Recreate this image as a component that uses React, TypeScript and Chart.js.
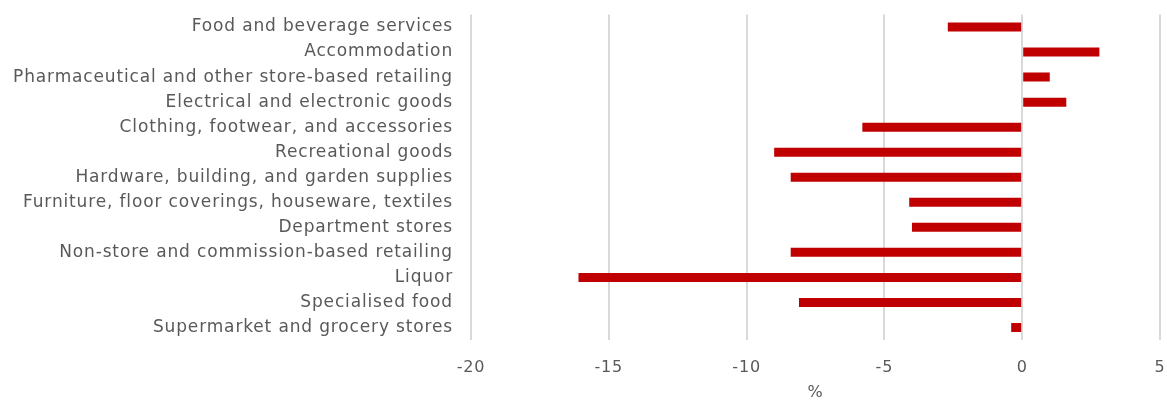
import React, { useEffect, useRef } from "react";
import { Chart, registerables } from "chart.js";

Chart.register(...registerables);

const categories = [
  "Food and beverage services",
  "Accommodation",
  "Pharmaceutical and other store-based retailing",
  "Electrical and electronic goods",
  "Clothing, footwear, and accessories",
  "Recreational goods",
  "Hardware, building, and garden supplies",
  "Furniture, floor coverings, houseware, textiles",
  "Department stores",
  "Non-store and commission-based retailing",
  "Liquor",
  "Specialised food",
  "Supermarket and grocery stores",
];

const values = [-2.7, 2.8, 1.0, 1.6, -5.8, -9.0, -8.4, -4.1, -4.0, -8.4, -16.1, -8.1, -0.4];

const xMin = -20;
const xMax = 5;
const xStep = 5;
const xTitle = "%";

const FONT = "'DejaVu Sans', sans-serif";
const TEXT = "#595959";

const spacingPlugin = {
  id: "letterSpacing",
  beforeDraw(chart: any) {
    chart.ctx.letterSpacing = "0.85px";
  },
};

export default function App() {
  const ref = useRef<HTMLCanvasElement | null>(null);

  useEffect(() => {
    if (!ref.current) return;
    const chart = new Chart(ref.current, {
      type: "bar",
      data: {
        labels: categories,
        datasets: [
          {
            data: values,
            backgroundColor: "#C00000",
            borderWidth: 0,
            barPercentage: 0.36,
            categoryPercentage: 1,
          },
        ],
      },
      options: {
        indexAxis: "y",
        animation: false,
        responsive: true,
        maintainAspectRatio: false,
        layout: { padding: { top: 14.5, right: 7, left: 0, bottom: 0 } },
        plugins: {
          legend: { display: false },
          tooltip: { enabled: false },
        },
        scales: {
          x: {
            min: xMin,
            max: xMax,
            ticks: {
              stepSize: xStep,
              color: TEXT,
              font: { family: FONT, size: 16 },
              padding: 18,
            },
            grid: { color: "#d9d9d9", lineWidth: 2, drawTicks: false },
            border: { display: false },
            title: {
              display: true,
              text: xTitle,
              color: TEXT,
              font: { family: FONT, size: 16 },
              padding: { top: 0, bottom: -2 },
            },
            afterFit: (scale: any) => {
              scale.height = 60;
              scale.paddingLeft = 0;
              scale.paddingRight = 0;
            },
          },
          y: {
            ticks: {
              color: TEXT,
              font: { family: FONT, size: 17 },
              padding: 18,
              autoSkip: false,
            },
            grid: { display: false, drawTicks: false },
            border: { display: false },
            afterFit: (scale: any) => {
              scale.width = 471;
              scale.paddingTop = 0;
              scale.paddingBottom = 0;
            },
          },
        },
      },
      plugins: [spacingPlugin],
    });
    return () => chart.destroy();
  }, []);

  return (
    <div style={{ position: "absolute", left: 0, top: 0, width: 1167, height: 400 }}>
      <canvas ref={ref} />
    </div>
  );
}
